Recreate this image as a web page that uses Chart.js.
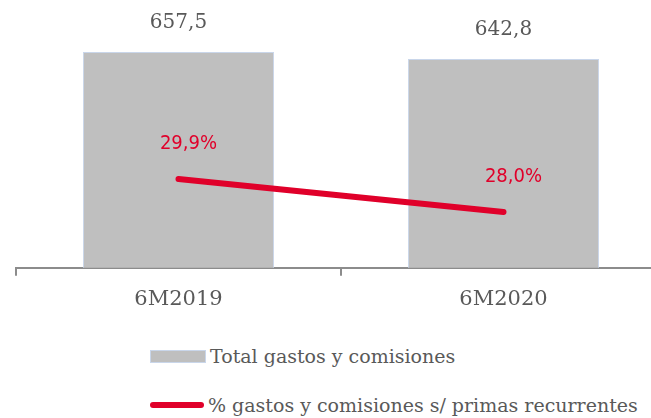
<!DOCTYPE html>
<html>
<head>
<meta charset="utf-8">
<script src="https://cdn.jsdelivr.net/npm/chart.js@4.4.1/dist/chart.umd.min.js"></script>
<style>
  html, body { margin: 0; padding: 0; width: 651px; height: 418px; overflow: hidden; background: #fff; }
  #wrap { position: absolute; left: 0; top: 0; width: 690px; height: 323px; }
  #legend { position: absolute; left: 150px; top: 340px; font-family: "DejaVu Serif", serif; font-size: 19px; color: #595959; }
  .item { display: flex; align-items: center; height: 32px; margin-bottom: 17px; white-space: nowrap; }
  .sw { display: inline-block; width: 54px; margin-right: 4px; }
</style>
</head>
<body>
<div id="wrap"><canvas id="myChart"></canvas></div>
<div id="legend"></div>
<script>
  var periods = ["6M2019", "6M2020"];
  var totalGastos = [657.5, 642.8];
  var pctGastos = [29.9, 28.0];
  var seriesNames = ["Total gastos y comisiones", "% gastos y comisiones s/ primas recurrentes"];

  function fmt(v) { return v.toFixed(1).replace('.', ','); }

  var valueLabels = {
    id: 'valueLabels',
    afterDatasetsDraw: function(chart) {
      var ctx = chart.ctx;
      ctx.save();
      ctx.textAlign = 'center';
      ctx.textBaseline = 'middle';
      chart.getDatasetMeta(0).data.forEach(function(bar, i) {
        ctx.fillStyle = '#595959';
        ctx.font = '20px "DejaVu Serif"';
        ctx.fillText(fmt(totalGastos[i]), bar.x, bar.y - 29);
      });
      chart.getDatasetMeta(1).data.forEach(function(pt, i) {
        ctx.fillStyle = '#E0002A';
        ctx.font = '20px "DejaVu Sans Condensed", "Liberation Sans Narrow", sans-serif';
        ctx.fillText(fmt(pctGastos[i]) + '%', pt.x + 10, pt.y - 35);
      });
      ctx.restore();
    }
  };

  let ctxChart = document.getElementById("myChart").getContext('2d');
  let myChart = new Chart(ctxChart, {
    data: {
      labels: periods,
      datasets: [{
        type: 'bar',
        label: seriesNames[0],
        data: totalGastos,
        backgroundColor: '#BFBFBF',
        borderColor: '#C9D6EA',
        borderWidth: 1,
        categoryPercentage: 1,
        barPercentage: 0.588,
        yAxisID: 'y',
        order: 2
      }, {
        type: 'line',
        label: seriesNames[1],
        data: pctGastos,
        borderColor: '#E0002A',
        backgroundColor: '#E0002A',
        borderWidth: 6,
        borderCapStyle: 'round',
        pointRadius: 0,
        yAxisID: 'y2',
        order: 1
      }]
    },
    options: {
      responsive: true,
      maintainAspectRatio: false,
      animation: false,
      layout: { padding: { left: 16, right: 24, top: 38, bottom: 0 } },
      plugins: {
        legend: { display: false },
        tooltip: { enabled: false }
      },
      scales: {
        x: {
          offset: true,
          grid: { display: true, drawOnChartArea: false, offset: true, color: '#8C8C8C', lineWidth: 2, tickLength: 8 },
          border: { display: true, color: '#8C8C8C', width: 2 },
          ticks: { color: '#595959', font: { family: 'DejaVu Serif', size: 21 }, padding: 11 }
        },
        y: { display: false, min: 204, max: 687 },
        y2: { display: false, min: 24.78, max: 38.02 }
      }
    },
    plugins: [valueLabels]
  });

  // legend in html, two rows
  var legendBox = document.getElementById('legend');
  myChart.data.datasets.forEach(function(ds) {
    var row = document.createElement('div');
    row.className = 'item';
    var sw = document.createElement('span');
    sw.className = 'sw';
    if (ds.type === 'bar') {
      sw.style.height = '11px';
      sw.style.background = ds.backgroundColor;
      sw.style.border = '1px solid ' + ds.borderColor;
    } else {
      sw.style.height = '6px';
      sw.style.borderRadius = '3px';
      sw.style.background = ds.borderColor;
    }
    row.appendChild(sw);
    row.appendChild(document.createTextNode(ds.label));
    legendBox.appendChild(row);
  });
</script>
</body>
</html>
